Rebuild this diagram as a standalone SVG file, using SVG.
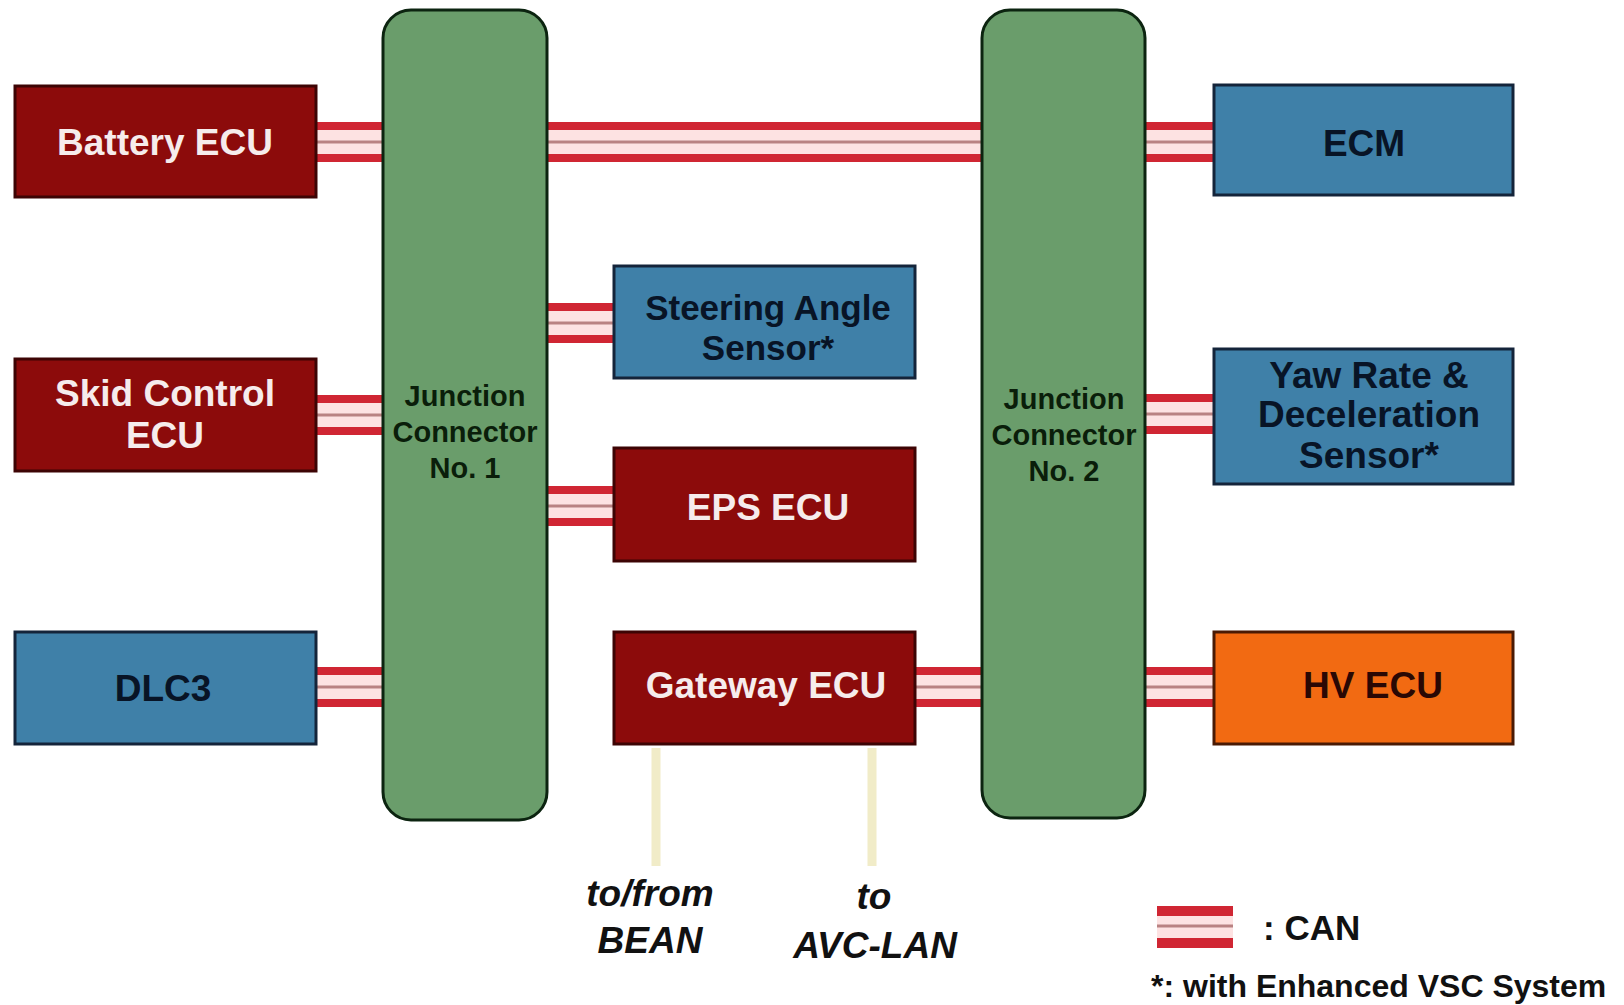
<svg xmlns="http://www.w3.org/2000/svg" width="1624" height="1005" viewBox="0 0 1624 1005">
<style>
.junc{fill:#6a9d6b;stroke:#0c2410;stroke-width:3}
.red{fill:#8c0b0b;stroke:#3d0404;stroke-width:3}
.blue{fill:#3f80a8;stroke:#14243a;stroke-width:3}
.orange{fill:#f26a12;stroke:#4a1a04;stroke-width:3}
text{font-family:"Liberation Sans",Arial,sans-serif;font-weight:bold;text-anchor:middle}
.lbl{font-size:37px}
.wt{fill:#f6ecec}
.dk{fill:#081426}
.ok{fill:#2a0804}
.jt{font-size:29px;fill:#0a1e0a}
.it{font-size:37px;font-style:italic;fill:#111}
.can-bg{fill:#fde2e2}
.can-red{stroke:#d02633;stroke-width:8}
.can-mid{stroke:#b98282;stroke-width:3}
.ext{stroke:#f1ecc8;stroke-width:9}
</style>
<g id="connectors">
  <g id="c-battery-j1"><rect class="can-bg" x="316" y="129" width="67" height="26"/><line class="can-red" x1="316" y1="126" x2="383" y2="126"/><line class="can-mid" x1="316" y1="142" x2="383" y2="142"/><line class="can-red" x1="316" y1="158" x2="383" y2="158"/></g>
  <g id="c-j1-j2"><rect class="can-bg" x="547" y="129" width="435" height="26"/><line class="can-red" x1="547" y1="126" x2="982" y2="126"/><line class="can-mid" x1="547" y1="142" x2="982" y2="142"/><line class="can-red" x1="547" y1="158" x2="982" y2="158"/></g>
  <g id="c-j2-ecm"><rect class="can-bg" x="1145" y="129" width="69" height="26"/><line class="can-red" x1="1145" y1="126" x2="1214" y2="126"/><line class="can-mid" x1="1145" y1="142" x2="1214" y2="142"/><line class="can-red" x1="1145" y1="158" x2="1214" y2="158"/></g>
  <g id="c-j1-steering"><rect class="can-bg" x="547" y="310" width="67" height="26"/><line class="can-red" x1="547" y1="307" x2="614" y2="307"/><line class="can-mid" x1="547" y1="323" x2="614" y2="323"/><line class="can-red" x1="547" y1="339" x2="614" y2="339"/></g>
  <g id="c-skid-j1"><rect class="can-bg" x="316" y="402" width="67" height="26"/><line class="can-red" x1="316" y1="399" x2="383" y2="399"/><line class="can-mid" x1="316" y1="415" x2="383" y2="415"/><line class="can-red" x1="316" y1="431" x2="383" y2="431"/></g>
  <g id="c-j2-yaw"><rect class="can-bg" x="1145" y="401" width="69" height="26"/><line class="can-red" x1="1145" y1="398" x2="1214" y2="398"/><line class="can-mid" x1="1145" y1="414" x2="1214" y2="414"/><line class="can-red" x1="1145" y1="430" x2="1214" y2="430"/></g>
  <g id="c-j1-eps"><rect class="can-bg" x="547" y="493" width="67" height="26"/><line class="can-red" x1="547" y1="490" x2="614" y2="490"/><line class="can-mid" x1="547" y1="506" x2="614" y2="506"/><line class="can-red" x1="547" y1="522" x2="614" y2="522"/></g>
  <g id="c-dlc3-j1"><rect class="can-bg" x="316" y="674" width="67" height="26"/><line class="can-red" x1="316" y1="671" x2="383" y2="671"/><line class="can-mid" x1="316" y1="687" x2="383" y2="687"/><line class="can-red" x1="316" y1="703" x2="383" y2="703"/></g>
  <g id="c-gateway-j2"><rect class="can-bg" x="915" y="674" width="67" height="26"/><line class="can-red" x1="915" y1="671" x2="982" y2="671"/><line class="can-mid" x1="915" y1="687" x2="982" y2="687"/><line class="can-red" x1="915" y1="703" x2="982" y2="703"/></g>
  <g id="c-j2-hv"><rect class="can-bg" x="1145" y="674" width="69" height="26"/><line class="can-red" x1="1145" y1="671" x2="1214" y2="671"/><line class="can-mid" x1="1145" y1="687" x2="1214" y2="687"/><line class="can-red" x1="1145" y1="703" x2="1214" y2="703"/></g>
  <line id="c-bean" class="ext" x1="656" y1="748" x2="656" y2="866"/>
  <line id="c-avc" class="ext" x1="872" y1="748" x2="872" y2="866"/>
</g>
<g id="junction1"><rect class="junc" x="383" y="10" width="164" height="810" rx="28"/>
  <text class="jt" x="465" y="406">Junction</text><text class="jt" x="465" y="442">Connector</text><text class="jt" x="465" y="478">No. 1</text></g>
<g id="junction2"><rect class="junc" x="982" y="10" width="163" height="808" rx="28"/>
  <text class="jt" x="1064" y="409">Junction</text><text class="jt" x="1064" y="445">Connector</text><text class="jt" x="1064" y="481">No. 2</text></g>
<g id="battery-ecu"><rect class="red" x="15" y="86" width="301" height="111"/><text class="lbl wt" x="165" y="155">Battery ECU</text></g>
<g id="skid-control-ecu"><rect class="red" x="15" y="359" width="301" height="112"/><text class="lbl wt" x="165" y="406">Skid Control</text><text class="lbl wt" x="165" y="448">ECU</text></g>
<g id="dlc3"><rect class="blue" x="15" y="632" width="301" height="112"/><text class="lbl dk" x="163" y="701">DLC3</text></g>
<g id="steering-angle-sensor"><rect class="blue" x="614" y="266" width="301" height="112"/><text class="lbl dk" x="768" y="320" style="font-size:35px">Steering Angle</text><text class="lbl dk" x="768" y="360" style="font-size:35px">Sensor*</text></g>
<g id="eps-ecu"><rect class="red" x="614" y="448" width="301" height="113"/><text class="lbl wt" x="768" y="520">EPS ECU</text></g>
<g id="gateway-ecu"><rect class="red" x="614" y="632" width="301" height="112"/><text class="lbl wt" x="766" y="698">Gateway ECU</text></g>
<g id="ecm"><rect class="blue" x="1214" y="85" width="299" height="110"/><text class="lbl dk" x="1364" y="156">ECM</text></g>
<g id="yaw-rate-sensor"><rect class="blue" x="1214" y="349" width="299" height="135"/><text class="lbl dk" x="1369" y="388">Yaw Rate &amp;</text><text class="lbl dk" x="1369" y="427">Deceleration</text><text class="lbl dk" x="1369" y="468">Sensor*</text></g>
<g id="hv-ecu"><rect class="orange" x="1214" y="632" width="299" height="112"/><text class="lbl ok" x="1373" y="698">HV ECU</text></g>
<g id="bean-label"><text class="it" x="650" y="906">to/from</text><text class="it" x="650" y="953">BEAN</text></g>
<g id="avc-label"><text class="it" x="874" y="909">to</text><text class="it" x="875" y="958">AVC-LAN</text></g>
<g id="legend">
  <rect class="can-bg" x="1157" y="914" width="76" height="26"/>
  <line class="can-red" x1="1157" y1="911" x2="1233" y2="911" style="stroke-width:10"/>
  <line class="can-mid" x1="1157" y1="926" x2="1233" y2="926"/>
  <line class="can-red" x1="1157" y1="943" x2="1233" y2="943" style="stroke-width:10"/>
  <text x="1263" y="940" style="font-size:35px;text-anchor:start;fill:#111">: CAN</text>
  <text x="1151" y="997" style="font-size:32px;text-anchor:start;fill:#111">*: with Enhanced VSC System</text>
</g>
</svg>
